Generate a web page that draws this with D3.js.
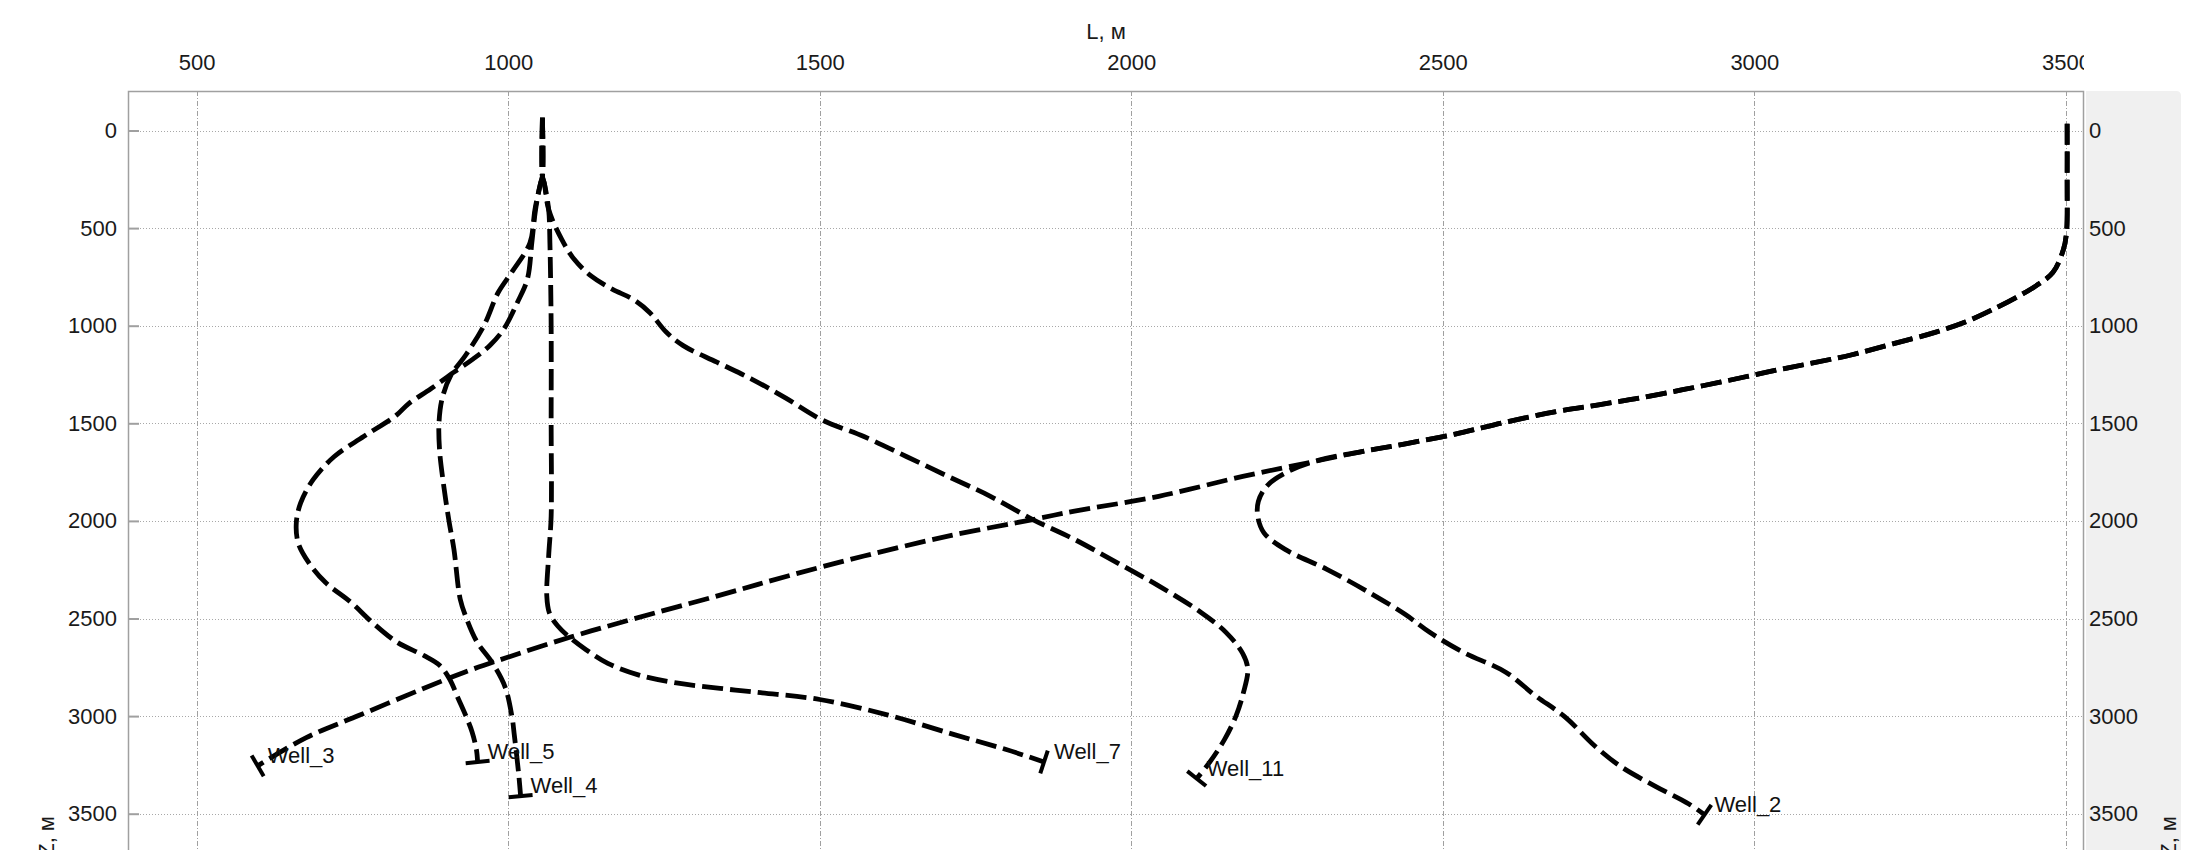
<!DOCTYPE html>
<html>
<head>
<meta charset="utf-8">
<script src="https://cdn.jsdelivr.net/npm/d3@7"></script>
<style>
  html, body { margin: 0; padding: 0; background: #fff; }
  svg { display: block; }
</style>
</head>
<body>
<svg id="chart" width="2203" height="850"></svg>
<script>
// Axis ticks
const xTicks = [500, 1000, 1500, 2000, 2500, 3000, 3500];
const zTicks = [0, 500, 1000, 1500, 2000, 2500, 3000, 3500];

// Well trajectories: [L (horizontal offset, m), Z (depth, m)]
const wellNames = ["Well_2", "Well_3", "Well_4", "Well_5", "Well_7", "Well_11"];

const well_2 = [[3502,-35],[3502,250],[3501,520],[3496,610],[3479,728],[3452,796],[3425,847],[3384,915],[3344,974],[3290,1034],[3222,1093],[3155,1150],[3087,1195],[3020,1238],[2952,1285],[2885,1328],[2817,1370],[2750,1405],[2682,1440],[2600,1495],[2520,1555],[2440,1605],[2370,1645],[2300,1690],[2250,1750],[2218,1820],[2204,1900],[2203,1976],[2213,2061],[2247,2146],[2314,2248],[2382,2367],[2440,2480],[2479,2571],[2533,2673],[2601,2775],[2648,2894],[2696,3004],[2744,3153],[2785,3257],[2842,3361],[2895,3450],[2920,3505]];

const well_3 = [[3502,-35],[3502,250],[3501,520],[3496,610],[3479,728],[3452,796],[3425,847],[3384,915],[3344,974],[3290,1034],[3222,1093],[3155,1150],[3087,1195],[3020,1238],[2952,1285],[2885,1328],[2817,1370],[2750,1405],[2682,1440],[2600,1495],[2520,1555],[2440,1605],[2370,1645],[2287,1700],[2179,1772],[2044,1874],[1909,1950],[1842,1993],[1706,2078],[1571,2180],[1449,2282],[1336,2384],[1200,2503],[1099,2596],[998,2700],[930,2775],[863,2860],[761,2996],[676,3110],[598,3255]];

const well_4 = [[1055,-65],[1055,235],[1052,270],[1043,405],[1035,575],[1006,725],[984,830],[961,1000],[932,1150],[908,1255],[894,1374],[889,1500],[890,1640],[896,1806],[905,2000],[913,2146],[923,2400],[932,2490],[950,2620],[974,2724],[995,2850],[1006,3000],[1010,3100],[1017,3300],[1020,3410]];

const well_5 = [[1055,-65],[1055,235],[1052,270],[1044,405],[1038,575],[1031,760],[1015,880],[993,1017],[971,1100],[944,1170],[913,1238],[876,1323],[840,1400],[820,1460],[768,1568],[721,1670],[687,1789],[667,1908],[660,2010],[663,2112],[680,2214],[707,2316],[748,2418],[782,2520],[822,2622],[865,2690],[890,2740],[906,2810],[920,2911],[934,3013],[942,3080],[949,3170],[951,3235]];

const well_7 = [[1055,-65],[1055,235],[1058,270],[1065,405],[1067,575],[1069,1000],[1069,1500],[1069,1976],[1065,2180],[1062,2384],[1066,2470],[1080,2540],[1100,2600],[1125,2660],[1160,2730],[1210,2790],[1270,2830],[1340,2858],[1405,2880],[1500,2915],[1610,2995],[1716,3095],[1798,3170],[1860,3235]];

const well_11 = [[1055,-65],[1055,235],[1058,270],[1065,405],[1086,558],[1106,660],[1133,745],[1167,813],[1200,864],[1227,932],[1254,1034],[1281,1102],[1335,1187],[1390,1272],[1445,1370],[1504,1483],[1571,1568],[1639,1670],[1706,1772],[1774,1874],[1842,1993],[1909,2095],[1977,2214],[2044,2333],[2112,2469],[2152,2571],[2179,2680],[2187,2760],[2180,2880],[2168,3000],[2150,3118],[2125,3240],[2105,3320]];

const wellPaths = [well_2, well_3, well_4, well_5, well_7, well_11];

// Layout
const FONT = '"Liberation Sans", Arial, sans-serif';
const plot = { left: 128, right: 2084, top: 91, bottom: 900 };

const x = d3.scaleLinear().domain([500, 3500]).range([196.6, 2065.9]);
const y = d3.scaleLinear().domain([0, 3500]).range([130.5, 813.7]);

const svg = d3.select("#chart");
const defs = svg.append("defs");
defs.append("clipPath").attr("id", "plotClip")
  .append("rect").attr("x", plot.left).attr("y", plot.top)
  .attr("width", plot.right - plot.left).attr("height", plot.bottom - plot.top);
defs.append("clipPath").attr("id", "topClip")
  .append("rect").attr("x", 0).attr("y", 0).attr("width", plot.right).attr("height", plot.top);

// Grey side panel holding the right depth scale
svg.append("path")
  .attr("d", `M2086,${plot.top} H2176 Q2181,${plot.top} 2181,${plot.top + 5} V850 H2086 Z`)
  .attr("fill", "#f0f0f0");

// Grid
const grid = svg.append("g").attr("clip-path", "url(#plotClip)");
grid.selectAll("line.h").data(zTicks).join("line")
  .attr("class", "h")
  .attr("x1", plot.left).attr("x2", plot.right)
  .attr("y1", d => Math.round(y(d)) + 0.5).attr("y2", d => Math.round(y(d)) + 0.5)
  .attr("stroke", "#a8a8a8").attr("stroke-width", 1).attr("stroke-dasharray", "1,2");
grid.selectAll("line.v").data(xTicks).join("line")
  .attr("class", "v")
  .attr("x1", d => Math.round(x(d)) + 0.5).attr("x2", d => Math.round(x(d)) + 0.5)
  .attr("y1", plot.top).attr("y2", plot.bottom)
  .attr("stroke", "#a0a0a0").attr("stroke-width", 1).attr("stroke-dasharray", "5,2,1,2");

// Plot frame
svg.append("path")
  .attr("d", `M${plot.left + 0.5},${plot.bottom} V${plot.top + 0.5} H${plot.right - 0.5} V${plot.bottom}`)
  .attr("fill", "none").attr("stroke", "#a0a0a0").attr("stroke-width", 1.5);

function styleAxis(g) {
  g.attr("font-size", 22).attr("font-family", FONT);
  g.select(".domain").remove();
  g.selectAll("text").attr("fill", "#1a1a1a");
}

// Top axis (L); labels are cut at the right edge of the frame
svg.append("g")
  .attr("clip-path", "url(#topClip)")
  .append("g")
  .attr("transform", `translate(0,${plot.top})`)
  .call(d3.axisTop(x).tickValues(xTicks).tickSize(0).tickPadding(21).tickFormat(d3.format("d")))
  .call(styleAxis);

// Left axis (Z) with short inward ticks
svg.append("g")
  .attr("transform", `translate(${plot.left},0)`)
  .call(d3.axisLeft(y).tickValues(zTicks).tickSize(-11).tickPadding(11).tickFormat(d3.format("d")))
  .call(styleAxis)
  .call(g => g.selectAll(".tick line").attr("stroke", "#a0a0a0").attr("stroke-width", 2));

// Right axis (Z)
svg.append("g")
  .attr("transform", `translate(${plot.right},0)`)
  .call(d3.axisRight(y).tickValues(zTicks).tickSize(0).tickPadding(5).tickFormat(d3.format("d")))
  .call(styleAxis);

// Axis titles
svg.append("text")
  .attr("x", (plot.left + plot.right) / 2).attr("y", 38.5)
  .attr("text-anchor", "middle").attr("font-size", 22).attr("font-family", FONT).attr("fill", "#1a1a1a")
  .text("L, м");
[54, 2176].forEach(tx => {
  svg.append("text")
    .attr("transform", `translate(${tx},816) rotate(-90)`)
    .attr("text-anchor", "end").attr("font-size", 22).attr("font-family", FONT).attr("fill", "#1a1a1a")
    .text("Z, м");
});

// Trajectories
const layer = svg.append("g").attr("clip-path", "url(#plotClip)");
const line = d3.line()
  .x(d => x(d[0])).y(d => y(d[1]))
  .curve(d3.curveCatmullRom.alpha(0.5));

wellPaths.forEach((pts, i) => {
  layer.append("path")
    .attr("d", line(pts))
    .attr("fill", "none").attr("stroke", "#000")
    .attr("stroke-width", 4.8).attr("stroke-dasharray", "21,7");

  // bottom-hole tick, perpendicular to the last segment
  const a = pts[pts.length - 2], b = pts[pts.length - 1];
  const ex = x(b[0]), ey = y(b[1]);
  let dx = ex - x(a[0]), dy = ey - y(a[1]);
  const len = Math.hypot(dx, dy) || 1;
  dx /= len; dy /= len;
  const h = 12;
  layer.append("line")
    .attr("x1", ex - dy * h).attr("y1", ey + dx * h)
    .attr("x2", ex + dy * h).attr("y2", ey - dx * h)
    .attr("stroke", "#000").attr("stroke-width", 4);

  layer.append("text")
    .attr("x", ex + 10).attr("y", ey - 3)
    .attr("font-size", 22).attr("font-family", FONT).attr("fill", "#111")
    .text(wellNames[i]);
});
</script>
</body>
</html>
